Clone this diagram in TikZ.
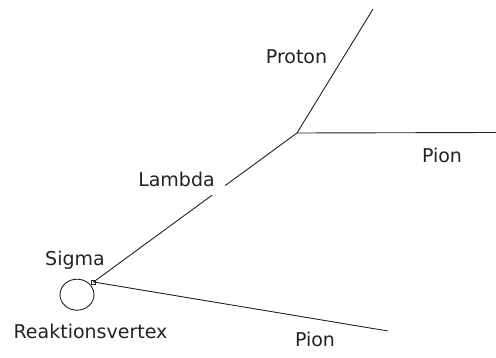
\documentclass[tikz,border=0pt]{standalone}
\usepackage{fontspec}
\setmainfont{DejaVu Sans}
\usetikzlibrary{calc,shapes.geometric}
\definecolor{ink}{HTML}{222222}
\begin{document}
\begin{tikzpicture}[x=1pt,y=-1pt,
  track/.style={draw=ink, line width=0.9pt},
  lbl/.style={font=\fontsize{19}{22}\selectfont, text=ink, inner sep=0pt, anchor=base}]
\useasboundingbox (0,0) rectangle (496,358);

% production vertex and decay points
\node[draw=ink, line width=0.7pt, minimum size=4pt, inner sep=0pt] (prod) at (93.5,282) {};
\coordinate (decay) at (297,133);
\coordinate (protonEnd) at (373,9);
\coordinate (pionEndA) at (496,132.5);
\coordinate (pionEndB) at (388,331);

% reaction vertex
\node[draw=ink, line width=0.9pt, ellipse, minimum width=34pt, minimum height=31pt, inner sep=0pt] (rv) at (77,294.7) {};

% tracks
\draw[track] (prod.center) -- ($(prod.center)!0.583!(decay)$);
\draw[track] ($(prod.center)!0.647!(decay)$) -- (decay);
\draw[track] (decay) -- (protonEnd);
\draw[track] (decay) -- (pionEndA);
\draw[track] (prod.center) -- (pionEndB);

% labels
\node[lbl] (sigma) at (75,266) {Sigma};
\node[lbl] (rvtext) at (90.5,339) {Reaktionsvertex};
\node[lbl] (lambda) at (176.5,187) {Lambda};
\node[lbl] (proton) at (296.5,64) {Proton};
\node[lbl] (pionA) at (442,163) {Pion};
\node[lbl] (pionB) at (315,347) {Pion};
\end{tikzpicture}
\end{document}
